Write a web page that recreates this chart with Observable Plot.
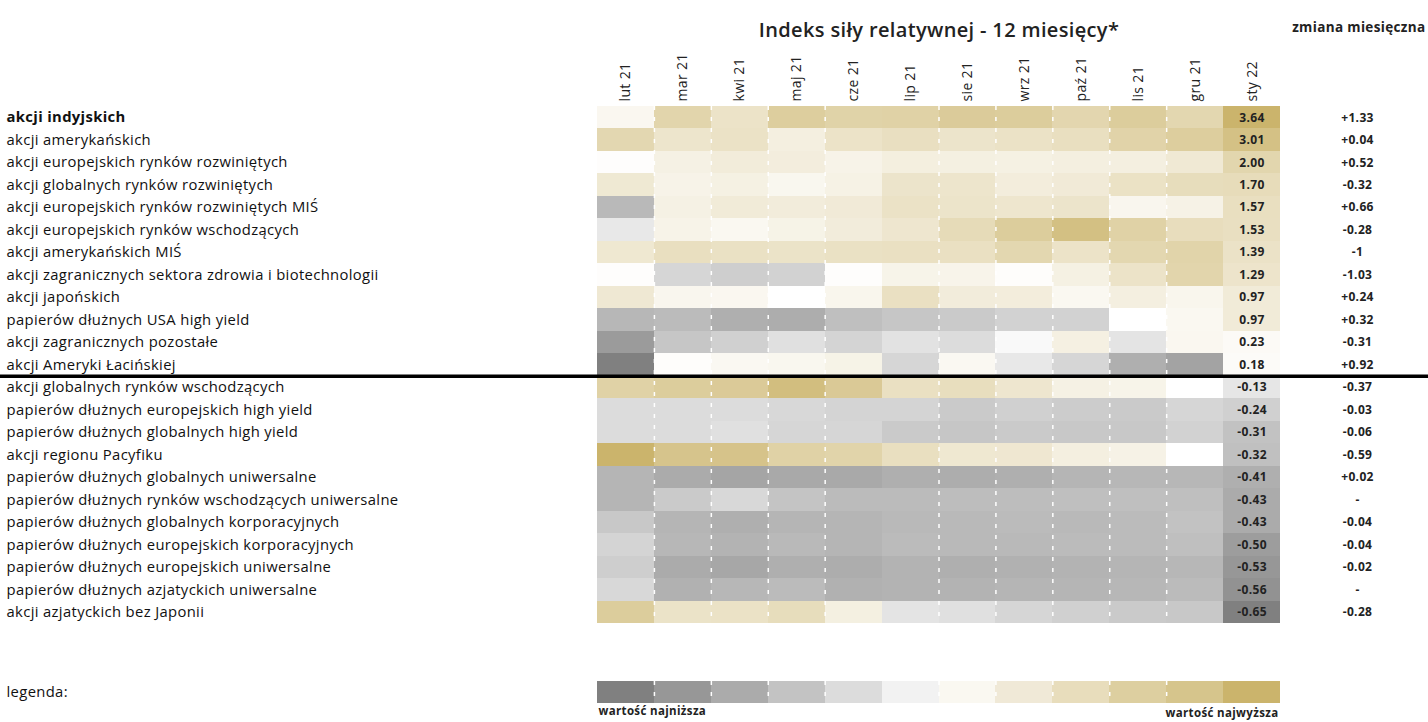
<!DOCTYPE html>
<html><head><meta charset="utf-8">
<script src="https://cdn.jsdelivr.net/npm/d3@7"></script>
<script src="https://cdn.jsdelivr.net/npm/@observablehq/plot@0.6"></script>
<style>
body{margin:0;background:#fff;}
#chart svg{display:block;}
</style>
</head><body><div id="chart"></div>
<script>
const months = ["lut 21","mar 21","kwi 21","maj 21","cze 21","lip 21","sie 21","wrz 21","paź 21","lis 21","gru 21","sty 22"];
const categories = [
  "akcji indyjskich",
  "akcji amerykańskich",
  "akcji europejskich rynków rozwiniętych",
  "akcji globalnych rynków rozwiniętych",
  "akcji europejskich rynków rozwiniętych MIŚ",
  "akcji europejskich rynków wschodzących",
  "akcji amerykańskich MIŚ",
  "akcji zagranicznych sektora zdrowia i biotechnologii",
  "akcji japońskich",
  "papierów dłużnych USA high yield",
  "akcji zagranicznych pozostałe",
  "akcji Ameryki Łacińskiej",
  "akcji globalnych rynków wschodzących",
  "papierów dłużnych europejskich high yield",
  "papierów dłużnych globalnych high yield",
  "akcji regionu Pacyfiku",
  "papierów dłużnych globalnych uniwersalne",
  "papierów dłużnych rynków wschodzących uniwersalne",
  "papierów dłużnych globalnych korporacyjnych",
  "papierów dłużnych europejskich korporacyjnych",
  "papierów dłużnych europejskich uniwersalne",
  "papierów dłużnych azjatyckich uniwersalne",
  "akcji azjatyckich bez Japonii"
];
// estimated relative strength index per month (one value per category, in order)
const lut21 = [0.37, 1.93, 0.08, 1.09, -0.36, -0.12, 1.14, 0.08, 1.10, -0.37, -0.51, -0.65, 2.20, -0.18, -0.18, 3.64, -0.38, -0.38, -0.28, -0.22, -0.25, -0.20, 2.45];
const mar21 = [2.05, 1.26, 0.67, 0.58, 0.67, 0.57, 1.55, -0.21, 0.42, -0.35, -0.29, 0.10, 2.45, -0.18, -0.18, 2.85, -0.43, -0.27, -0.38, -0.37, -0.43, -0.40, 1.37];
const kwi21 = [1.36, 1.41, 0.92, 0.70, 0.97, 0.35, 1.47, -0.25, 0.38, -0.41, -0.24, 0.33, 2.55, -0.18, -0.16, 2.90, -0.46, -0.20, -0.41, -0.39, -0.45, -0.37, 1.40];
const maj21 = [2.40, 0.77, 0.85, 0.40, 0.90, 0.60, 1.37, -0.23, 0.00, -0.42, -0.16, 0.40, 3.17, -0.20, -0.21, 2.20, -0.44, -0.30, -0.38, -0.36, -0.41, -0.35, 1.65];
const cze21 = [2.15, 1.35, 0.58, 0.65, 1.00, 0.90, 1.47, 0.08, 0.45, -0.33, -0.22, 0.60, 2.60, -0.22, -0.21, 2.10, -0.44, -0.35, -0.38, -0.38, -0.42, -0.40, 0.75];
const lip21 = [2.20, 1.54, 0.80, 1.30, 1.40, 1.20, 1.50, 0.55, 1.50, -0.29, -0.15, -0.21, 1.50, -0.22, -0.27, 1.55, -0.41, -0.35, -0.36, -0.35, -0.39, -0.39, -0.14];
const sie21 = [2.50, 1.30, 0.75, 1.27, 1.32, 1.76, 1.50, 0.52, 0.90, -0.27, -0.18, 0.33, 1.60, -0.27, -0.29, 1.13, -0.42, -0.34, -0.36, -0.36, -0.41, -0.39, -0.16];
const wrz21 = [2.45, 1.40, 0.70, 0.87, 1.22, 2.45, 1.95, 0.10, 0.87, -0.23, -0.03, -0.12, 1.20, -0.24, -0.27, 1.15, -0.41, -0.34, -0.35, -0.36, -0.40, -0.38, -0.21];
const paz21 = [1.97, 1.55, 0.78, 1.00, 1.30, 3.07, 1.35, 0.70, 0.35, -0.23, 0.72, -0.21, 0.67, -0.26, -0.28, 0.77, -0.38, -0.33, -0.36, -0.35, -0.39, -0.38, -0.24];
const lis21 = [2.45, 2.13, 0.78, 1.43, 0.42, 2.20, 1.95, 1.35, 0.78, 0.00, -0.14, -0.41, 0.55, -0.27, -0.28, 0.62, -0.37, -0.33, -0.35, -0.35, -0.38, -0.37, -0.27];
const gru21 = [1.95, 2.40, 1.06, 1.66, 0.62, 1.63, 2.10, 2.05, 0.45, 0.35, 0.37, -0.47, 0.00, -0.21, -0.23, 0.00, -0.37, -0.33, -0.31, -0.33, -0.37, -0.35, -0.28];
const sty22 = [3.64, 3.01, 2.00, 1.70, 1.57, 1.53, 1.39, 1.29, 0.97, 0.97, 0.23, 0.18, -0.13, -0.24, -0.31, -0.32, -0.41, -0.43, -0.43, -0.50, -0.53, -0.56, -0.65];
const monthlyChange = ["+1.33","+0.04","+0.52","-0.32","+0.66","-0.28","-1","-1.03","+0.24","+0.32","-0.31","+0.92","-0.37","-0.03","-0.06","-0.59","+0.02","-","-0.04","-0.04","-0.02","-","-0.28"];
const legendColors = ["#808080","#979797","#ababab","#c3c3c3","#dcdcdc","#f2f2f2","#faf8f1","#f0e9d7","#e8ddbc","#ddcfa0","#d6c58c","#cbb46c"];
const dashedBefore = ["mar 21","kwi 21","maj 21","cze 21","sie 21","wrz 21","paź 21","lis 21","gru 21"];

const series = [lut21, mar21, kwi21, maj21, cze21, lip21, sie21, wrz21, paz21, lis21, gru21, sty22];
const data = [];
months.forEach((m, j) => categories.forEach((c, i) => data.push({month: m, category: c, value: series[j][i]})));

const W = 1428, ML = 597, MR = 148, MT = 106, H1 = 650, MB = 27;
const bw = (W - ML - MR) / months.length;
const bh = (H1 - MT - MB) / categories.length;
const font = "'Open Sans', Roboto, sans-serif";
const st = {fontFamily: font, fontSize: "14px", color: "#222", background: "#fff", letterSpacing: "0.35px"};

const main = Plot.plot({
  width: W, height: H1,
  marginLeft: ML, marginRight: MR, marginTop: MT, marginBottom: MB,
  style: st,
  x: {domain: months, padding: 0, round: false, axis: "top", tickSize: 0, tickPadding: 5, tickRotate: -90, label: null},
  y: {domain: categories, padding: 0, round: false, axis: null},
  color: {type: "linear", domain: [-0.65, 0, 3.64], range: ["#808080", "#ffffff", "#cbb46c"], interpolate: "rgb", clamp: true},
  marks: [
    Plot.cell(data, {x: "month", y: "category", fill: "value", inset: 0, shapeRendering: "crispEdges"}),
    Plot.ruleX(dashedBefore, {dx: -bw / 2, stroke: "#fff", strokeWidth: 1.5, strokeDasharray: "4,7"}),
    Plot.text(data.filter(d => d.month === "sty 22"), {x: "month", y: "category", text: d => d.value.toFixed(2), fontWeight: "bold", fontSize: 12, fill: "#222"}),
    Plot.text(categories.slice(0, 1), {y: d => d, text: d => d, frameAnchor: "left", textAnchor: "start", dx: -(ML - 6), fontSize: 14.8, fontWeight: "bold", fill: "#111"}),
    Plot.text(categories.slice(1), {y: d => d, text: d => d, frameAnchor: "left", textAnchor: "start", dx: -(ML - 6), fontSize: 14.8, fill: "#111"}),
    Plot.text(categories, {y: d => d, text: (d, i) => monthlyChange[i], frameAnchor: "right", textAnchor: "middle", dx: 77, fontSize: 12, fontWeight: "bold", fill: "#222"}),
    Plot.ruleY([categories[12]], {dy: -bh / 2, stroke: "#000", strokeWidth: 3.5, insetLeft: -ML, insetRight: -MR}),
    Plot.text(["Indeks siły relatywnej - 12 miesięcy*"], {frameAnchor: "top", dy: -(MT - 22), fontSize: 20, fontWeight: 600, fill: "#222"}),
    Plot.text(["zmiana miesięczna"], {frameAnchor: "top-right", textAnchor: "end", dx: MR - 3, dy: -(MT - 22), fontSize: 13.5, fontWeight: "bold", fill: "#222"})
  ]
});

const legend = Plot.plot({
  width: W, height: 722 - H1,
  marginLeft: ML, marginRight: MR, marginTop: 31, marginBottom: 19,
  style: st,
  x: {domain: d3.range(legendColors.length), padding: 0, round: false, axis: null},
  y: {axis: null},
  color: {type: "identity"},
  marks: [
    Plot.cell(legendColors, {x: (d, i) => i, fill: d => d, inset: 0, shapeRendering: "crispEdges"}),
    Plot.ruleX([1, 2, 3, 4, 6, 7, 8, 9, 10], {dx: -bw / 2, stroke: "#fff", strokeWidth: 1.5, strokeDasharray: "4,7"}),
    Plot.text(["legenda:"], {frameAnchor: "left", textAnchor: "start", dx: -(ML - 6), fontSize: 14.8, fill: "#111"}),
    Plot.text(["wartość najniższa"], {frameAnchor: "bottom-left", textAnchor: "start", dx: 1, dy: 11, fontSize: 11.5, fontWeight: "bold", fill: "#222"}),
    Plot.text(["wartość najwyższa"], {frameAnchor: "bottom-right", textAnchor: "end", dx: -2, dy: 13, fontSize: 11.5, fontWeight: "bold", fill: "#222"})
  ]
});

const el = document.getElementById("chart");
el.appendChild(main);
el.appendChild(legend);
</script>
</body></html>
